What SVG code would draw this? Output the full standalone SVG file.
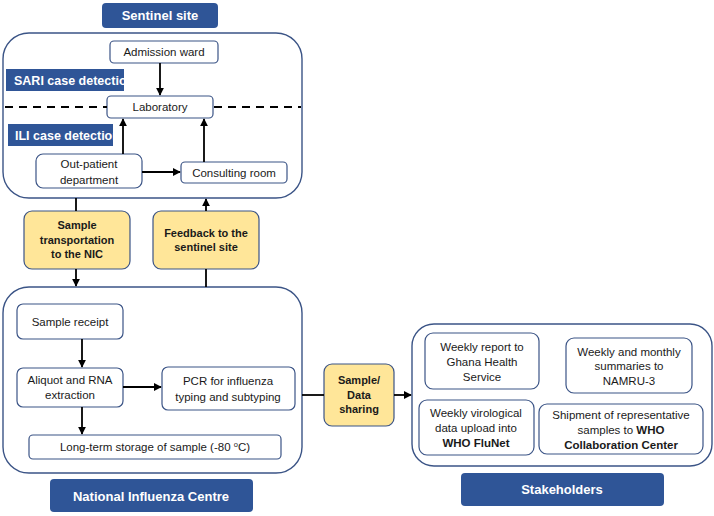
<svg xmlns="http://www.w3.org/2000/svg" width="714" height="516" viewBox="0 0 714 516">
<style>
text{font-family:"Liberation Sans",Arial,sans-serif;font-size:11.5px;fill:#1a1a1a;text-anchor:middle}
.hdr{fill:#2F5597}
.hdr-t{fill:#fff;font-weight:bold;font-size:13px}
.lbl-t{fill:#fff;font-weight:bold;font-size:12.5px;text-anchor:start}
.outer{fill:#fff;stroke:#3B5486;stroke-width:1.4}
.box{fill:#fff;stroke:#3B5486;stroke-width:1.2}
.yel{fill:#FFE699;stroke:#3B5486;stroke-width:1.2}
.yt{font-weight:bold;font-size:11px}
.c{stroke:#000;stroke-width:1.8;fill:none}
.b{font-weight:bold}
</style>
<defs>
<marker id="ah" viewBox="0 0 10 10" refX="9" refY="5" markerWidth="4.5" markerHeight="4.5" orient="auto">
<path d="M0,0 L10,5 L0,10 z" fill="#000"/>
</marker>
<clipPath id="clipSari"><rect x="6" y="69" width="118" height="22"/></clipPath>
<clipPath id="clipIli"><rect x="8" y="124" width="105" height="22"/></clipPath>
</defs>

<g id="sentinel-site">
<rect class="outer" x="3" y="33" width="299" height="165" rx="26"/>
<rect class="hdr" x="102" y="3" width="116" height="25" rx="4"/>
<text class="hdr-t" x="160" y="20">Sentinel site</text>
</g>

<g id="sari-label">
<rect class="hdr" x="6" y="69" width="118" height="22"/>
<text class="lbl-t" x="14" y="85" clip-path="url(#clipSari)">SARI case detection</text>
</g>
<g id="ili-label">
<rect class="hdr" x="8" y="124" width="105" height="22"/>
<text class="lbl-t" x="15" y="140" clip-path="url(#clipIli)">ILI case detection</text>
</g>

<g id="admission-ward">
<rect class="box" x="110" y="41" width="108" height="22" rx="4"/>
<text x="164" y="56">Admission ward</text>
</g>
<g id="laboratory">
<rect class="box" x="107" y="96" width="106" height="22" rx="4"/>
<text x="160" y="111">Laboratory</text>
</g>
<g id="outpatient">
<rect class="box" x="36" y="154" width="106" height="34" rx="7"/>
<text x="89" y="168">Out-patient</text>
<text x="89" y="184">department</text>
</g>
<g id="consulting-room">
<rect class="box" x="181" y="162" width="106" height="21" rx="4"/>
<text x="234" y="177">Consulting room</text>
</g>

<g id="sample-transport">
<rect class="yel" x="24" y="211" width="106" height="58" rx="8"/>
<text class="yt" x="77" y="229">Sample</text>
<text class="yt" x="77" y="244">transportation</text>
<text class="yt" x="77" y="258">to the NIC</text>
</g>
<g id="feedback">
<rect class="yel" x="153" y="211" width="106" height="58" rx="8"/>
<text class="yt" x="206" y="237">Feedback to the</text>
<text class="yt" x="206" y="251">sentinel site</text>
</g>

<g id="nic">
<rect class="outer" x="3" y="287" width="299" height="186" rx="26"/>
<rect class="hdr" x="50" y="479" width="203" height="33" rx="4"/>
<text class="hdr-t" x="151" y="501">National Influenza Centre</text>
</g>
<g id="sample-receipt">
<rect class="box" x="17" y="304" width="106" height="35" rx="6"/>
<text x="70" y="326">Sample receipt</text>
</g>
<g id="aliquot">
<rect class="box" x="17" y="368" width="106" height="39" rx="6"/>
<text x="70" y="384">Aliquot and RNA</text>
<text x="70" y="399">extraction</text>
</g>
<g id="pcr">
<rect class="box" x="162" y="367" width="133" height="43" rx="6"/>
<text x="228" y="385">PCR for influenza</text>
<text x="228" y="401">typing and subtyping</text>
</g>
<g id="long-term">
<rect class="box" x="29" y="435" width="252" height="24" rx="4"/>
<text x="155" y="451">Long-term storage of sample (-80 <tspan font-size="7.5" dy="-4">o</tspan><tspan dy="4">C)</tspan></text>
</g>

<g id="sample-data">
<rect class="yel" x="324" y="364" width="70" height="62" rx="8"/>
<text class="yt" x="359" y="384">Sample/</text>
<text class="yt" x="359" y="399">Data</text>
<text class="yt" x="359" y="413">sharing</text>
</g>

<g id="stakeholders">
<rect class="outer" x="412" y="324" width="300" height="142" rx="22"/>
<rect class="hdr" x="461" y="473" width="203" height="33" rx="4"/>
<text class="hdr-t" x="562" y="494">Stakeholders</text>
</g>
<g id="weekly-report">
<rect class="box" x="425" y="333" width="114" height="56" rx="8"/>
<text x="482" y="351">Weekly report to</text>
<text x="482" y="366">Ghana Health</text>
<text x="482" y="381">Service</text>
</g>
<g id="weekly-monthly">
<rect class="box" x="566" y="338" width="126" height="55" rx="8"/>
<text x="629" y="356">Weekly and monthly</text>
<text x="629" y="370">summaries to</text>
<text x="629" y="385">NAMRU-3</text>
</g>
<g id="weekly-virological">
<rect class="box" x="419" y="400" width="115" height="55" rx="8"/>
<text x="476" y="417">Weekly virological</text>
<text x="476" y="432">data upload into</text>
<text class="b" x="476" y="447">WHO FluNet</text>
</g>
<g id="shipment">
<rect class="box" x="539" y="404" width="164" height="50" rx="8"/>
<text x="621" y="419">Shipment of representative</text>
<text x="621" y="434">samples to <tspan class="b">WHO</tspan></text>
<text class="b" x="621" y="449">Collaboration  Center</text>
</g>

<g id="dividers">
<line x1="5" y1="107" x2="107" y2="107" stroke="#000" stroke-width="2" stroke-dasharray="8,6"/>
<line x1="214" y1="107" x2="301" y2="107" stroke="#000" stroke-width="2" stroke-dasharray="8,6"/>
</g>

<g id="connectors">
<line class="c" x1="160" y1="63" x2="160" y2="95" marker-end="url(#ah)"/>
<line class="c" x1="123" y1="154" x2="123" y2="119" marker-end="url(#ah)"/>
<line class="c" x1="204" y1="162" x2="204" y2="119" marker-end="url(#ah)"/>
<line class="c" x1="142" y1="172" x2="180" y2="172" marker-end="url(#ah)"/>
<line class="c" x1="76" y1="198" x2="76" y2="211"/>
<line class="c" x1="76" y1="269" x2="76" y2="286" marker-end="url(#ah)"/>
<line class="c" x1="206" y1="287" x2="206" y2="269"/>
<line class="c" x1="206" y1="211" x2="206" y2="199" marker-end="url(#ah)"/>
<line class="c" x1="82" y1="339" x2="82" y2="367" marker-end="url(#ah)"/>
<line class="c" x1="123" y1="387" x2="161" y2="387" marker-end="url(#ah)"/>
<line class="c" x1="82" y1="407" x2="82" y2="434" marker-end="url(#ah)"/>
<line class="c" x1="302" y1="395" x2="324" y2="395"/>
<line class="c" x1="394" y1="395" x2="411" y2="395" marker-end="url(#ah)"/>
</g>
</svg>
